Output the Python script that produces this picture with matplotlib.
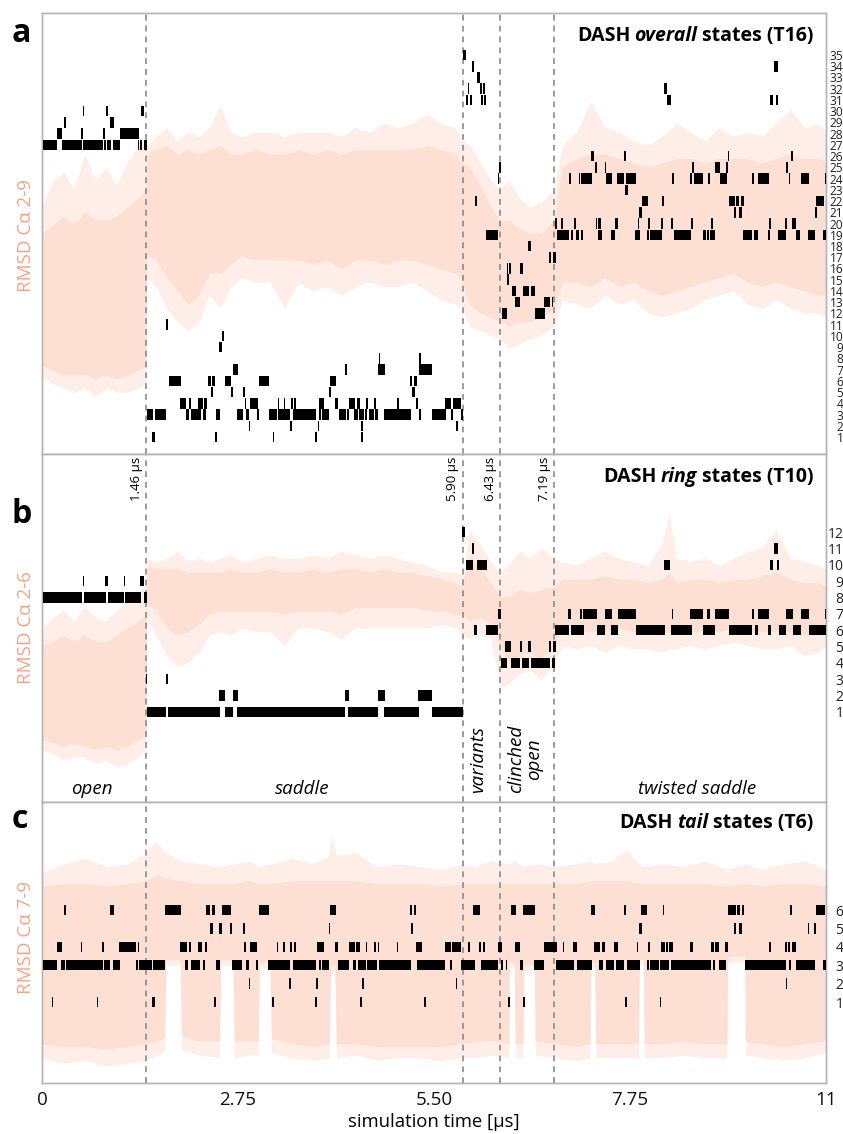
import matplotlib
matplotlib.use('Agg')
import matplotlib.pyplot as plt
from matplotlib import transforms

plt.rcParams['font.family'] = ['Open Sans', 'DejaVu Sans']

# ---------------- shared axis data ----------------
x_ticks = [0, 2.75, 5.5, 8.25, 11]
x_tick_labels = ['0', '2.75', '5.50', '7.75', '11']
boundaries = [1.46, 5.90, 6.43, 7.19]
boundary_labels = ['1.46 µs', '5.90 µs', '6.43 µs', '7.19 µs']
phase_names = ['open', 'saddle', 'twisted saddle']
phase_pos = [0.70, 3.65, 9.19]
rot_phase_names = ['variants', 'clinched\nopen']
rot_phase_pos = [6.12, 6.78]

# ---------------- panel a: overall states (T16), RMSD Ca 2-9 ----------------
t_a = [0, 0.15, 0.3, 0.45, 0.6, 0.75, 0.9, 1.05, 1.2, 1.35, 1.46, 1.47, 1.6, 1.75, 1.9, 2.05,
       2.2, 2.35, 2.5, 2.65, 2.8, 3.0, 3.2, 3.4, 3.6, 3.8, 4.0, 4.2, 4.4, 4.6, 4.8, 5.0, 5.2,
       5.4, 5.6, 5.8, 5.9, 6.0, 6.15, 6.3, 6.43, 6.55, 6.7, 6.85, 7.0, 7.19, 7.3, 7.5, 7.7,
       7.9, 8.1, 8.3, 8.5, 8.7, 8.9, 9.1, 9.3, 9.5, 9.7, 9.9, 10.1, 10.3, 10.5, 10.7, 10.9, 11.0]
rmsd_a_hi = [5.6, 6.2, 6.4, 6.0, 6.8, 6.2, 6.5, 6.1, 6.6, 7.0, 7.1, 7.0, 7.2, 7.4, 7.1, 7.3,
             7.2, 7.4, 7.9, 7.3, 7.2, 7.3, 7.3, 7.2, 7.3, 7.3, 7.3, 7.2, 7.4, 7.3, 7.5, 7.4, 7.5,
             7.7, 7.5, 7.4, 7.1, 7.0, 6.6, 6.2, 6.0, 6.2, 5.8, 5.6, 5.7, 6.0, 7.0, 7.3, 8.0,
             7.4, 7.3, 7.1, 7.0, 7.2, 7.5, 7.3, 7.1, 7.4, 7.2, 7.3, 7.2, 7.5, 7.8, 7.4, 7.5, 7.3]
rmsd_a_lo = [1.75, 1.6, 1.5, 1.4, 1.5, 1.3, 1.5, 1.4, 1.4, 1.5, 1.6, 4.0, 3.8, 3.3, 3.0, 2.8,
             3.0, 3.6, 3.3, 3.8, 4.0, 3.9, 3.9, 3.3, 3.9, 3.7, 3.8, 3.6, 3.8, 3.9, 3.8, 3.8, 3.9,
             3.7, 3.5, 3.4, 3.3, 2.9, 2.8, 2.7, 2.6, 2.4, 2.5, 2.6, 2.7, 2.9, 3.5, 3.4, 3.3,
             3.6, 3.4, 3.5, 3.2, 3.1, 3.2, 3.3, 3.5, 3.6, 3.7, 3.4, 3.3, 3.5, 3.3, 3.2, 3.2, 3.1]
rmsd_a_core_hi = [5.0, 5.2, 5.4, 5.2, 5.5, 5.3, 5.3, 5.4, 5.6, 5.8, 6.0, 6.8, 6.9, 7.0, 6.8, 6.9,
                  6.8, 6.9, 7.0, 6.8, 6.8, 6.9, 6.8, 6.8, 6.9, 6.8, 6.9, 6.8, 6.9, 6.9, 6.9, 6.9, 6.9,
                  7.0, 6.9, 6.8, 6.6, 6.5, 6.1, 5.6, 5.3, 5.3, 5.1, 5.0, 5.0, 5.3, 6.5, 6.7, 6.8,
                  6.8, 6.7, 6.6, 6.5, 6.6, 6.7, 6.7, 6.6, 6.7, 6.7, 6.7, 6.6, 6.7, 6.8, 6.7, 6.7, 6.6]
rmsd_a_core_lo = [2.0, 1.9, 1.8, 1.8, 1.8, 1.7, 1.8, 1.7, 1.8, 1.9, 2.0, 4.5, 4.4, 4.0, 3.7, 3.4,
                  3.6, 4.1, 4.1, 4.3, 4.5, 4.4, 4.4, 4.4, 4.4, 4.3, 4.4, 4.2, 4.4, 4.4, 4.3, 4.4, 4.4,
                  4.3, 4.2, 4.1, 3.9, 3.4, 3.2, 3.1, 3.0, 2.9, 3.0, 3.0, 3.1, 3.3, 3.9, 3.9, 3.8,
                  4.0, 3.8, 3.9, 3.7, 3.6, 3.7, 3.8, 3.9, 4.0, 4.1, 3.9, 3.8, 3.9, 3.8, 3.7, 3.6, 3.6]
overall_segments = [
    (27, 0.009, 0.215), (27, 0.281, 0.557), (27, 0.571, 0.862), (27, 0.876, 0.899), (27, 0.918, 0.965),
    (27, 0.993, 1.096), (27, 1.340, 1.358), (27, 1.377, 1.400), (27, 1.433, 1.471),
    (28, 0.215, 0.281), (28, 0.553, 0.571), (28, 0.862, 0.881), (28, 1.096, 1.363),
    (29, 0.309, 0.333), (29, 0.955, 1.012),
    (30, 0.576, 0.590), (30, 0.904, 0.923), (30, 1.391, 1.433),
    (11, 1.733, 1.766), (10, 2.529, 2.553), (9, 2.487, 2.525),
    (8, 4.726, 4.745), (8, 5.296, 5.315),
    (7, 2.674, 2.749), (7, 4.248, 4.281), (7, 4.712, 4.806), (7, 5.296, 5.466),
    (6, 1.775, 1.953), (6, 2.323, 2.375), (6, 2.389, 2.431), (6, 2.562, 2.656), (6, 3.040, 3.190),
    (6, 4.047, 4.126), (6, 5.162, 5.190), (6, 5.213, 5.255),
    (5, 2.370, 2.398), (5, 2.656, 2.679), (5, 2.815, 2.848), (5, 4.033, 4.056), (5, 5.194, 5.227),
    (4, 1.939, 2.023), (4, 2.056, 2.094), (4, 2.192, 2.258), (4, 2.276, 2.314), (4, 2.843, 2.862),
    (4, 2.923, 3.030), (4, 3.307, 3.321), (4, 3.391, 3.410), (4, 3.494, 3.518), (4, 3.541, 3.564),
    (4, 3.883, 3.953), (4, 4.117, 4.155), (4, 4.314, 4.389), (4, 4.422, 4.468), (4, 4.548, 4.571),
    (4, 4.665, 4.689), (4, 4.984, 5.007), (4, 5.241, 5.274), (4, 5.653, 5.733), (4, 5.766, 5.883),
    (3, 1.475, 1.564), (3, 1.588, 1.742), (3, 2.023, 2.056), (3, 2.089, 2.234), (3, 2.258, 2.300),
    (3, 2.445, 2.501), (3, 2.740, 2.815), (3, 2.866, 2.899), (3, 3.021, 3.049), (3, 3.190, 3.297),
    (3, 3.311, 3.475), (3, 3.518, 3.850), (3, 3.892, 3.916), (3, 3.930, 4.033), (3, 4.164, 4.267),
    (3, 4.281, 4.304), (3, 4.384, 4.431), (3, 4.450, 4.515), (3, 4.529, 4.562), (3, 4.585, 4.656),
    (3, 4.674, 4.717), (3, 4.796, 5.171), (3, 5.288, 5.311), (3, 5.466, 5.663), (3, 5.745, 5.765),
    (3, 5.874, 5.911),
    (2, 2.899, 2.923), (2, 3.475, 3.508), (2, 3.869, 3.892), (2, 4.482, 4.506), (2, 5.813, 5.833),
    (1, 1.541, 1.588), (1, 2.431, 2.459), (1, 3.237, 3.260), (1, 3.836, 3.859), (1, 4.482, 4.506),
    (35, 5.911, 5.953), (34, 6.028, 6.066), (33, 6.098, 6.140),
    (32, 5.977, 5.996), (32, 6.145, 6.169), (32, 6.192, 6.215),
    (31, 5.948, 5.972), (31, 6.000, 6.037), (31, 6.155, 6.183), (31, 6.202, 6.234),
    (25, 6.412, 6.445), (24, 6.398, 6.417), (22, 6.070, 6.108), (19, 6.225, 6.398),
    (18, 6.820, 6.867), (17, 7.115, 7.148), (17, 7.171, 7.209),
    (16, 6.520, 6.544), (16, 6.558, 6.586), (16, 6.703, 6.754), (15, 6.529, 6.553),
    (14, 6.591, 6.647), (14, 6.754, 6.829), (14, 6.857, 6.914),
    (13, 6.637, 6.703), (13, 7.045, 7.124), (13, 7.152, 7.176),
    (12, 6.450, 6.520), (12, 6.914, 7.054),
    (34, 10.277, 10.323), (32, 8.731, 8.764),
    (31, 8.770, 8.820), (31, 10.216, 10.263), (31, 10.305, 10.333),
    (26, 7.709, 7.747), (26, 8.169, 8.187), (26, 9.621, 9.635), (26, 10.502, 10.530),
    (25, 7.756, 7.794), (25, 7.902, 7.916), (25, 9.124, 9.133), (25, 9.447, 9.513), (25, 9.593, 9.626),
    (25, 10.440, 10.473),
    (24, 7.396, 7.429), (24, 7.536, 7.555), (24, 7.569, 7.588), (24, 7.597, 7.714), (24, 7.911, 7.995),
    (24, 8.066, 8.159), (24, 8.197, 8.333), (24, 8.839, 8.862), (24, 9.096, 9.115), (24, 9.143, 9.274),
    (24, 9.340, 9.368), (24, 9.513, 9.607), (24, 9.963, 9.995), (24, 10.052, 10.197), (24, 10.478, 10.501),
    (24, 10.651, 10.768), (24, 10.980, 11.0),
    (23, 8.178, 8.216),
    (22, 8.417, 8.501), (22, 8.698, 8.726), (22, 9.644, 9.728), (22, 9.738, 9.785), (22, 9.808, 9.855),
    (22, 10.862, 10.969),
    (21, 8.379, 8.412), (21, 9.714, 9.742), (21, 9.785, 9.818), (21, 10.848, 10.876),
    (20, 7.195, 7.232), (20, 7.288, 7.307), (20, 7.466, 7.499), (20, 7.770, 7.794), (20, 7.803, 7.850),
    (20, 8.042, 8.080), (20, 8.356, 8.379), (20, 8.500, 8.534), (20, 8.689, 8.712), (20, 8.820, 8.853),
    (20, 9.105, 9.129), (20, 9.386, 9.410), (20, 10.197, 10.225), (20, 10.426, 10.450), (20, 10.525, 10.576),
    (19, 7.232, 7.396), (19, 7.420, 7.457), (19, 7.490, 7.536), (19, 7.560, 7.597), (19, 7.808, 7.864),
    (19, 7.981, 8.042), (19, 8.319, 8.384), (19, 8.487, 8.515), (19, 8.525, 8.693), (19, 8.862, 9.105),
    (19, 9.274, 9.311), (19, 9.330, 9.354), (19, 9.368, 9.438), (19, 9.840, 9.962), (19, 9.986, 10.042),
    (19, 10.183, 10.211), (19, 10.323, 10.440), (19, 10.576, 10.642), (19, 10.745, 10.848),
    (19, 10.960, 10.998),
]

# ---------------- panel b: ring states (T10), RMSD Ca 2-6 ----------------
t_b = [0, 0.15, 0.3, 0.45, 0.6, 0.75, 0.9, 1.05, 1.2, 1.35, 1.46, 1.47, 1.6, 1.75, 1.9, 2.05,
       2.2, 2.35, 2.5, 2.65, 2.8, 3.0, 3.2, 3.4, 3.6, 3.8, 4.0, 4.2, 4.4, 4.6, 4.8, 5.0, 5.2,
       5.4, 5.6, 5.8, 5.9, 6.0, 6.15, 6.3, 6.43, 6.55, 6.7, 6.85, 7.0, 7.19, 7.3, 7.5, 7.7,
       7.9, 8.1, 8.3, 8.5, 8.7, 8.8, 8.9, 9.1, 9.3, 9.5, 9.7, 9.9, 10.1, 10.3, 10.5, 10.7, 10.9, 11.0]
rmsd_b_hi = [5.0, 5.3, 5.5, 5.2, 5.6, 5.3, 5.2, 5.5, 5.8, 6.0, 6.3, 7.0, 6.9, 7.0, 7.2, 6.9,
             7.0, 6.9, 7.0, 7.1, 6.9, 7.0, 7.1, 7.0, 7.0, 7.1, 7.0, 7.2, 7.1, 7.0, 7.1, 7.0, 6.9,
             6.8, 6.6, 6.6, 6.5, 7.8, 7.4, 6.9, 6.6, 6.8, 7.2, 7.0, 7.3, 7.0, 6.9, 6.8, 7.0,
             7.2, 7.0, 6.9, 6.8, 7.4, 8.3, 7.0, 6.9, 7.0, 6.8, 7.0, 7.2, 7.3, 7.8, 7.0, 6.9, 6.8, 6.7]
rmsd_b_lo = [1.5, 1.4, 1.2, 1.3, 1.3, 1.1, 1.2, 1.0, 1.1, 1.3, 1.5, 5.3, 4.8, 4.2, 3.9, 4.0,
             4.3, 4.8, 4.9, 4.8, 5.0, 4.9, 4.9, 4.5, 5.0, 5.0, 4.9, 4.7, 5.0, 5.0, 5.0, 5.0, 5.0,
             5.0, 5.1, 5.0, 4.8, 4.7, 4.8, 4.7, 3.3, 3.4, 3.7, 3.8, 3.5, 4.0, 4.5, 4.4, 4.5,
             4.3, 4.5, 4.4, 4.4, 4.3, 4.4, 4.4, 4.5, 4.4, 4.5, 4.6, 4.5, 4.4, 4.4, 4.5, 4.2, 4.3, 4.5]
rmsd_b_core_hi = [4.5, 4.6, 4.8, 4.6, 4.8, 4.6, 4.6, 4.8, 5.0, 5.2, 5.4, 6.8, 6.7, 6.7, 6.7, 6.6,
                  6.6, 6.6, 6.6, 6.7, 6.6, 6.6, 6.7, 6.6, 6.6, 6.7, 6.6, 6.7, 6.7, 6.6, 6.7, 6.6, 6.6,
                  6.5, 6.4, 6.3, 6.2, 7.1, 6.7, 6.3, 5.9, 5.9, 6.1, 6.0, 6.1, 6.2, 6.4, 6.4, 6.4,
                  6.5, 6.4, 6.4, 6.3, 6.4, 6.6, 6.3, 6.4, 6.4, 6.3, 6.4, 6.4, 6.5, 6.6, 6.4, 6.3, 6.3, 6.2]
rmsd_b_core_lo = [1.8, 1.7, 1.6, 1.7, 1.6, 1.5, 1.6, 1.5, 1.6, 1.8, 1.9, 5.7, 5.5, 5.0, 4.8, 4.9,
                  5.1, 5.4, 5.5, 5.5, 5.5, 5.5, 5.5, 5.4, 5.5, 5.5, 5.5, 5.4, 5.6, 5.6, 5.6, 5.6, 5.6,
                  5.5, 5.5, 5.4, 5.4, 5.2, 5.3, 5.1, 4.5, 4.0, 4.2, 4.3, 4.1, 4.5, 5.0, 4.9, 4.9,
                  4.9, 5.0, 4.9, 4.9, 4.8, 4.9, 4.9, 4.9, 4.9, 4.9, 5.0, 4.9, 4.9, 4.9, 4.9, 4.8, 4.8, 4.9]
ring_segments = [
    (9, 0.571, 0.590), (9, 0.881, 0.927), (9, 1.148, 1.166), (9, 1.377, 1.433),
    (8, 0.009, 0.568), (8, 0.592, 0.896), (8, 0.920, 1.150), (8, 1.168, 1.388), (8, 1.433, 1.475),
    (3, 1.461, 1.480), (3, 1.742, 1.770),
    (2, 2.487, 2.571), (2, 2.674, 2.745), (2, 4.258, 4.304), (2, 4.712, 4.806), (2, 5.279, 5.466),
    (1, 1.475, 1.742), (1, 1.766, 2.501), (1, 2.562, 2.674), (1, 2.740, 4.258), (1, 4.290, 4.717),
    (1, 4.796, 5.288), (1, 5.466, 5.911),
    (12, 5.897, 5.939), (11, 6.028, 6.061), (11, 10.277, 10.323),
    (10, 5.944, 6.047), (10, 6.098, 6.239), (10, 8.731, 8.815), (10, 10.216, 10.263), (10, 10.314, 10.337),
    (7, 6.398, 6.445), (7, 7.382, 7.429), (7, 7.546, 7.574), (7, 7.597, 7.785), (7, 7.897, 7.995),
    (7, 8.075, 8.333), (7, 8.834, 8.857), (7, 9.096, 9.274), (7, 9.330, 9.368), (7, 9.443, 9.644),
    (7, 9.962, 9.995), (7, 10.052, 10.202), (7, 10.440, 10.530), (7, 10.651, 10.768), (7, 10.988, 11.0),
    (6, 6.061, 6.108), (6, 6.225, 6.398), (6, 7.195, 7.396), (6, 7.420, 7.607), (6, 7.785, 7.897),
    (6, 7.981, 8.075), (6, 8.333, 8.740), (6, 8.825, 9.115), (6, 9.274, 9.447), (6, 9.644, 9.962),
    (6, 10.009, 10.052), (6, 10.192, 10.230), (6, 10.347, 10.440), (6, 10.530, 10.651), (6, 10.768, 11.0),
    (5, 6.500, 6.580), (5, 6.703, 6.740), (5, 6.820, 6.867), (5, 7.115, 7.148), (5, 7.171, 7.209),
    (4, 6.445, 6.520), (4, 6.586, 6.703), (4, 6.740, 6.834), (4, 6.867, 7.124), (4, 7.160, 7.199),
]

# ---------------- panel c: tail states (T6), RMSD Ca 7-9 ----------------
t_c = [0.0, 0.3, 0.6, 0.9, 1.2, 1.46, 1.6, 1.72, 1.74, 1.94, 1.96, 2.2, 2.49, 2.51, 2.68, 2.70,
       2.9, 3.03, 3.05, 3.20, 3.22, 3.5, 3.8, 4.03, 4.05, 4.11, 4.13, 4.4, 4.7, 5.0, 5.3, 5.6,
       5.9, 6.1, 6.3, 6.55, 6.56, 6.63, 6.64, 6.75, 6.76, 6.91, 6.92, 7.2, 7.5, 7.69, 7.70,
       7.76, 7.77, 8.0, 8.2, 8.37, 8.38, 8.44, 8.45, 8.7, 9.0, 9.3, 9.61, 9.62, 9.86, 9.87,
       10.1, 10.4, 10.7, 11.0]
rmsd_c_hi = [7.5, 7.8, 8.0, 7.7, 7.8, 8.2, 8.6, 8.2, 8.2, 7.9, 7.9, 7.8, 7.7, 7.7, 7.8, 7.8,
             7.9, 7.7, 7.7, 7.8, 7.8, 8.0, 7.8, 8.1, 8.8, 8.3, 8.1, 8.2, 7.7, 7.8, 7.7, 7.6,
             7.8, 7.7, 7.9, 7.8, 7.8, 7.9, 7.9, 7.7, 7.7, 7.8, 7.8, 7.7, 7.8, 7.9, 7.9,
             7.8, 7.8, 7.9, 8.3, 7.8, 7.8, 7.7, 7.7, 7.8, 7.7, 7.9, 7.6, 7.6, 7.8, 7.8,
             7.6, 7.8, 7.9, 7.6]
rmsd_c_lo = [0.9, 0.7, 0.8, 0.6, 0.7, 0.8, 1.0, 1.1, 4.2, 4.2, 1.2, 1.0, 0.9, 4.2, 4.2, 0.9,
             1.0, 1.0, 4.1, 4.1, 1.1, 0.9, 0.8, 0.9, 4.0, 4.0, 0.9, 1.0, 0.8, 0.9, 0.9, 0.8,
             0.9, 0.9, 1.0, 0.9, 4.1, 4.1, 0.9, 0.9, 4.0, 4.0, 1.0, 0.9, 0.8, 0.9, 4.1,
             4.1, 0.9, 0.9, 0.9, 0.9, 4.2, 4.2, 0.9, 0.9, 1.0, 0.9, 0.9, 4.3, 4.3, 1.0,
             0.9, 0.8, 0.9, 1.1]
rmsd_c_core_hi = [7.0, 7.1, 7.1, 7.0, 7.1, 7.2, 7.4, 7.3, 7.3, 7.2, 7.2, 7.1, 7.1, 7.1, 7.1, 7.1,
                  7.2, 7.1, 7.1, 7.1, 7.1, 7.2, 7.2, 7.2, 7.2, 7.2, 7.2, 7.2, 7.1, 7.1, 7.1, 7.0,
                  7.1, 7.1, 7.1, 7.1, 7.1, 7.1, 7.1, 7.1, 7.1, 7.1, 7.1, 7.1, 7.1, 7.2, 7.2,
                  7.2, 7.2, 7.2, 7.2, 7.1, 7.1, 7.1, 7.1, 7.1, 7.1, 7.1, 7.0, 7.0, 7.1, 7.1,
                  7.0, 7.1, 7.1, 7.0]
rmsd_c_core_lo = [1.4, 1.3, 1.3, 1.2, 1.3, 1.4, 1.5, 1.6, 4.4, 4.4, 1.7, 1.5, 1.5, 4.4, 4.4, 1.5,
                  1.5, 1.5, 4.3, 4.3, 1.6, 1.4, 1.3, 1.4, 4.2, 4.2, 1.4, 1.4, 1.3, 1.3, 1.3, 1.3,
                  1.4, 1.5, 1.5, 1.4, 4.3, 4.3, 1.4, 1.4, 4.2, 4.2, 1.5, 1.4, 1.3, 1.4, 4.3,
                  4.3, 1.4, 1.4, 1.4, 1.4, 4.4, 4.4, 1.4, 1.4, 1.5, 1.4, 1.4, 4.5, 4.5, 1.5,
                  1.4, 1.3, 1.4, 1.5]
tail_segments = [
    (6, 0.309, 0.337), (6, 0.955, 1.012), (6, 1.728, 1.953), (6, 2.304, 2.361), (6, 2.379, 2.426),
    (6, 2.529, 2.656), (6, 3.040, 3.190), (6, 4.047, 4.131), (6, 5.157, 5.194), (6, 5.213, 5.251),
    (6, 6.052, 6.145), (6, 6.576, 6.646), (6, 6.754, 6.913), (6, 7.700, 7.756), (6, 8.169, 8.192),
    (6, 8.403, 8.483), (6, 8.707, 8.726), (6, 9.621, 9.738), (6, 9.752, 9.799), (6, 9.817, 9.855),
    (6, 10.497, 10.525), (6, 10.862, 10.979),
    (5, 2.361, 2.398), (5, 2.487, 2.525), (5, 2.642, 2.670), (5, 2.815, 2.852), (5, 4.023, 4.047),
    (5, 5.171, 5.208), (5, 8.379, 8.412), (5, 9.714, 9.742), (5, 9.785, 9.817), (5, 10.745, 10.768),
    (5, 10.829, 10.857),
    (4, 0.215, 0.281), (4, 0.548, 0.567), (4, 0.848, 0.867), (4, 1.082, 1.321), (4, 1.340, 1.363),
    (4, 1.939, 2.033), (4, 2.056, 2.094), (4, 2.192, 2.248), (4, 2.286, 2.314), (4, 2.838, 2.866),
    (4, 2.913, 3.021), (4, 3.297, 3.316), (4, 3.382, 3.410), (4, 3.485, 3.513), (4, 3.536, 3.564),
    (4, 3.864, 3.953), (4, 4.117, 4.155), (4, 4.314, 4.389), (4, 4.412, 4.468), (4, 4.543, 4.562),
    (4, 4.665, 4.689), (4, 4.717, 4.735), (4, 4.974, 4.998), (4, 5.241, 5.326), (4, 5.649, 5.742),
    (4, 5.756, 5.883), (4, 5.977, 6.005), (4, 6.136, 6.164), (4, 6.183, 6.211), (4, 6.403, 6.450),
    (4, 6.632, 6.703), (4, 7.045, 7.232), (4, 7.307, 7.326), (4, 7.457, 7.513), (4, 7.738, 7.831),
    (4, 7.855, 7.902), (4, 8.028, 8.075), (4, 8.347, 8.365), (4, 8.496, 8.534), (4, 8.684, 8.745),
    (4, 8.754, 8.778), (4, 8.801, 8.853), (4, 9.096, 9.129), (4, 9.386, 9.433), (4, 9.447, 9.504),
    (4, 9.583, 9.625), (4, 10.206, 10.225), (4, 10.426, 10.454), (4, 10.464, 10.492), (4, 10.525, 10.581),
    (3, 0.009, 0.206), (3, 0.267, 0.323), (3, 0.333, 0.862), (3, 0.876, 0.955), (3, 1.002, 1.096),
    (3, 1.321, 1.340), (3, 1.354, 1.541), (3, 1.564, 1.728), (3, 2.009, 2.047), (3, 2.089, 2.211),
    (3, 2.253, 2.290), (3, 2.445, 2.501), (3, 2.665, 2.810), (3, 2.866, 2.904), (3, 3.007, 3.030),
    (3, 3.176, 3.475), (3, 3.518, 3.850), (3, 3.892, 3.916), (3, 3.930, 4.033), (3, 4.150, 4.314),
    (3, 4.365, 4.412), (3, 4.436, 4.548), (3, 4.562, 4.703), (3, 4.731, 5.171), (3, 5.265, 5.649),
    (3, 5.724, 5.756), (3, 5.883, 6.070), (3, 6.155, 6.398), (3, 6.436, 6.464), (3, 6.506, 6.529),
    (3, 6.707, 6.754), (3, 6.904, 7.045), (3, 7.218, 7.466), (3, 7.504, 7.714), (3, 7.820, 7.866),
    (3, 7.916, 8.019), (3, 8.047, 8.169), (3, 8.206, 8.393), (3, 8.483, 8.520), (3, 8.534, 8.660),
    (3, 8.674, 8.801), (3, 8.824, 9.386), (3, 9.410, 9.443), (3, 9.494, 9.602), (3, 9.864, 10.440),
    (3, 10.478, 10.511), (3, 10.581, 10.852), (3, 10.960, 11.0),
    (2, 2.899, 2.923), (2, 3.471, 3.499), (2, 3.845, 3.874), (2, 4.492, 4.515), (2, 5.808, 5.827),
    (2, 10.436, 10.454),
    (1, 0.136, 0.155), (1, 0.768, 0.787), (1, 1.541, 1.588), (1, 2.407, 2.445), (1, 3.227, 3.260),
    (1, 3.827, 3.859), (1, 4.459, 4.492), (1, 5.358, 5.382), (1, 6.539, 6.562), (1, 6.744, 6.773),
    (1, 8.178, 8.201), (1, 8.665, 8.684),
]

# ---------------- styling ----------------
W, H = 843, 1134
PINK = '#fde0d3'
PINK_LIGHT = '#feeee7'
SALMON = '#f7a286'
FRAME = '#b4b4b4'
DASH = '#8a8a8a'
AX_LEFT, AX_RIGHT = 42, 826

fig = plt.figure(figsize=(W / 100, H / 100), dpi=100)


def rect(top, bottom):
    return [AX_LEFT / W, 1 - bottom / H, (AX_RIGHT - AX_LEFT) / W, (bottom - top) / H]


def panel(top, bottom, t, hi, lo, chi, clo, segs, n_states, ylim, label_size):
    ax = fig.add_axes(rect(top, bottom))
    ax.fill_between(t, lo, hi, color=PINK_LIGHT, lw=0)
    ax.fill_between(t, clo, chi, color=PINK, lw=0)
    ax.set_xlim(0, 11)
    ax.set_ylim(0, 10)
    ax.set_yticks([])
    ax.set_xticks([])
    for s in ax.spines.values():
        s.set_color(FRAME)
        s.set_linewidth(1.0)
    axs = ax.twinx()
    axs.set_ylim(*ylim)
    axs.set_xlim(0, 11)
    px_per_state = (bottom - top) / (ylim[1] - ylim[0])
    bh = 10.5 / px_per_state
    for b in boundaries:
        axs.axvline(b, color=DASH, lw=1.2, ls=(0, (3.5, 3)), zorder=1)
    states = sorted(set(s for s, _, _ in segs))
    for st in states:
        xr = [(a, max(e - a, 0.018)) for s, a, e in segs if s == st]
        axs.broken_barh(xr, (st - bh / 2, bh), facecolors='black', edgecolors='none', zorder=3)
    axs.set_yticks(range(1, n_states + 1))
    axs.set_yticklabels([str(i) for i in range(1, n_states + 1)], ha='right')
    axs.tick_params(axis='y', length=0, pad=12.5, labelsize=label_size, colors='#222222')
    for s in axs.spines.values():
        s.set_color(FRAME)
        s.set_linewidth(1.0)
    return ax, axs


ax_a, axs_a = panel(13, 454, t_a, rmsd_a_hi, rmsd_a_lo, rmsd_a_core_hi, rmsd_a_core_lo,
                    overall_segments, 35, (-0.51, 38.74), 8.6)
ax_b, axs_b = panel(454, 802, t_b, rmsd_b_hi, rmsd_b_lo, rmsd_b_core_hi, rmsd_b_core_lo,
                    ring_segments, 12, (-4.52, 16.79), 10)
ax_c, axs_c = panel(802, 1083, t_c, rmsd_c_hi, rmsd_c_lo, rmsd_c_core_hi, rmsd_c_core_lo,
                    tail_segments, 6, (-3.4, 11.87), 10)

# x axis on the bottom panel
ax_c.set_xticks(x_ticks)
ax_c.set_xticklabels(x_tick_labels)
ax_c.tick_params(axis='x', length=0, pad=6, labelsize=13.5, colors='#111111')
fig.text(434 / W, 1 - 1122 / H, 'simulation time [µs]', ha='center', va='center', fontsize=13.3)

# RMSD labels
for yc, lab in [(235, 'RMSD Cα 2-9'), (628, 'RMSD Cα 2-6'), (937, 'RMSD Cα 7-9')]:
    fig.text(26 / W, 1 - yc / H, lab, rotation=90, ha='center', va='center', color=SALMON, fontsize=13.5)

# panel letters
for yb, letter in [(42, 'a'), (523, 'b'), (828, 'c')]:
    fig.text(12 / W, 1 - yb / H, letter, ha='left', va='baseline', fontsize=23, fontweight='bold')

# titles with mixed styles (right aligned)
renderer = fig.canvas.get_renderer()


def rich_title(x_right, y_base, parts, size=14):
    objs = []
    for txt, style in parts:
        objs.append(fig.text(0, 1 - y_base / H, txt, fontsize=size, fontweight='bold',
                             fontstyle=style, va='baseline', ha='left'))
    widths = [o.get_window_extent(renderer).width for o in objs]
    gap = size * 1.389 * 0.22
    total = sum(widths) + gap * (len(objs) - 1)
    x = x_right - total
    for o, w in zip(objs, widths):
        o.set_x(x / W)
        x += w + gap


rich_title(813, 41, [('DASH', 'normal'), ('overall', 'italic'), ('states (T16)', 'normal')])
rich_title(813, 482, [('DASH', 'normal'), ('ring', 'italic'), ('states (T10)', 'normal')])
rich_title(813, 828, [('DASH', 'normal'), ('tail', 'italic'), ('states (T6)', 'normal')])

# boundary labels at the top of panel b
for b, lab in zip(boundaries, boundary_labels):
    ax_b.annotate(lab, xy=(b, 1), xycoords=('data', 'axes fraction'), xytext=(-2.5, -2),
                  textcoords='offset points', rotation=90, ha='right', va='top', fontsize=9.5)

# phase names in panel b
for name, pos in zip(phase_names, phase_pos):
    ax_b.text(pos, 8 / 348, name, ha='center', va='baseline', fontsize=13.5, fontstyle='italic',
              transform=transforms.blended_transform_factory(ax_b.transData, ax_b.transAxes))
for name, pos in zip(rot_phase_names, rot_phase_pos):
    ax_b.text(pos, 9 / 348, name, ha='center', va='bottom', rotation=90, fontsize=13.5,
              fontstyle='italic', multialignment='center', linespacing=1.0,
              transform=transforms.blended_transform_factory(ax_b.transData, ax_b.transAxes))

fig.savefig('out.png', dpi=100)
